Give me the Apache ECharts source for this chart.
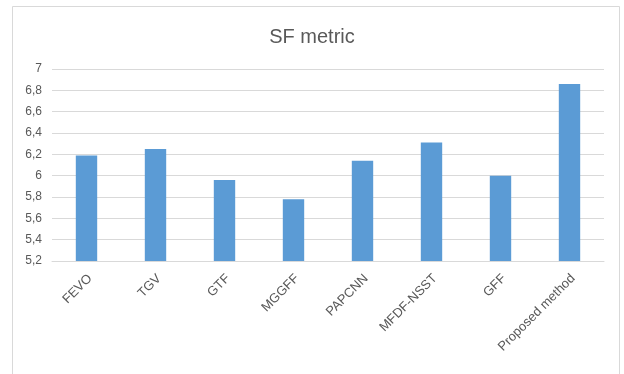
<!DOCTYPE html>
<html>
<head>
<meta charset="utf-8">
<script src="https://cdn.jsdelivr.net/npm/echarts@6/dist/echarts.min.js"></script>
<style>
  html, body { margin: 0; padding: 0; background: #ffffff; }
  #chart { width: 624px; height: 374px; }
</style>
</head>
<body>
<div id="chart"></div>
<script>
// SF metric scores per fusion method
const methods = ['FEVO', 'TGV', 'GTF', 'MGGFF', 'PAPCNN', 'MFDF-NSST', 'GFF', 'Proposed method'];
const sfValues = [6.19, 6.25, 5.96, 5.78, 6.14, 6.31, 6.00, 6.86];
const yMin = 5.2;
const yMax = 7;
const yStep = 0.2;

const chart = echarts.init(document.getElementById('chart'));
const textColor = '#595959';
const fontFamily = '"Liberation Sans", Arial, sans-serif';

chart.setOption({
  animation: false,
  backgroundColor: '#ffffff',
  title: {
    text: 'SF metric',
    left: 'center',
    top: 22,
    textStyle: { color: textColor, fontSize: 20, fontWeight: 'normal', fontFamily: fontFamily }
  },
  graphic: [{
    type: 'rect',
    shape: { x: 12.5, y: 6.5, width: 607, height: 400 },
    style: { fill: 'none', stroke: '#d9d9d9', lineWidth: 1 },
    silent: true,
    z: -1
  }],
  grid: { left: 52, right: 20, top: 69, bottom: 113 },
  xAxis: {
    type: 'category',
    data: methods,
    axisLine: { lineStyle: { color: '#d9d9d9' } },
    axisTick: { show: false },
    axisLabel: {
      rotate: 45,
      interval: 0,
      margin: 19,
      padding: [0, -5, 0, 0],
      color: textColor,
      fontSize: 13,
      fontFamily: fontFamily
    }
  },
  yAxis: {
    type: 'value',
    min: yMin,
    max: yMax,
    interval: yStep,
    axisLine: { show: false },
    axisTick: { show: false },
    splitLine: { lineStyle: { color: '#d9d9d9' } },
    axisLabel: {
      color: textColor,
      fontSize: 12,
      fontFamily: fontFamily,
      margin: 10,
      formatter: v => (Math.round(v * 10) / 10).toString().replace('.', ',')
    }
  },
  series: [{
    type: 'bar',
    data: sfValues,
    barWidth: '31%',
    itemStyle: { color: '#5b9bd5' }
  }]
});
</script>
</body>
</html>
